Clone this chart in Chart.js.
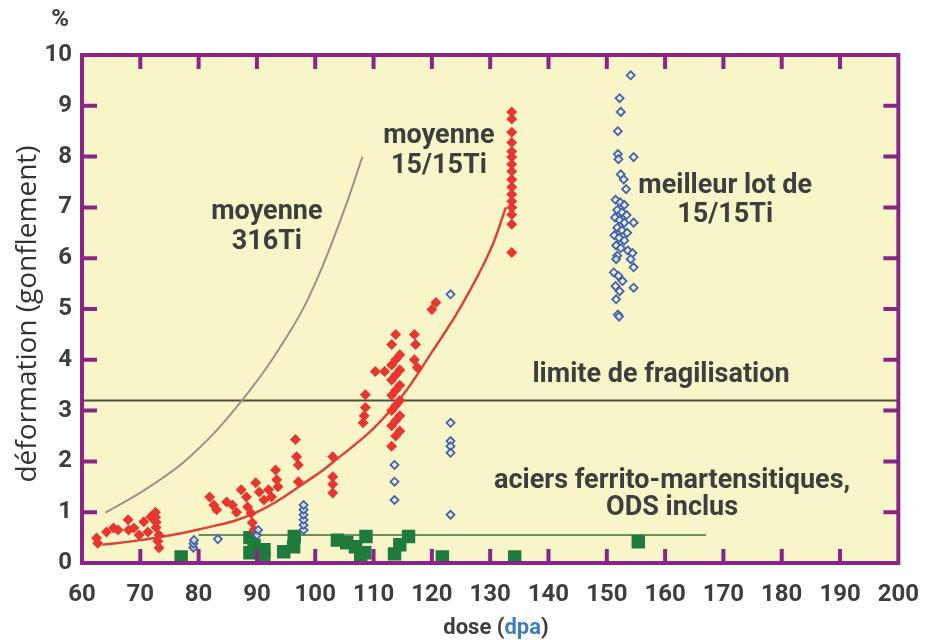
<!DOCTYPE html>
<html>
<head>
<meta charset="utf-8">
<script src="https://cdn.jsdelivr.net/npm/chart.js@4.4.0/dist/chart.umd.min.js"></script>
<style>
  html, body { margin: 0; padding: 0; background: #ffffff; }
  #wrap { width: 937px; height: 640px; position: relative; }
</style>
</head>
<body>
<div id="wrap"><canvas id="c" width="937" height="640"></canvas></div>
<script>
// Axis ticks
const doseTicks = [60, 70, 80, 90, 100, 110, 120, 130, 140, 150, 160, 170, 180, 190, 200];
const swellTicks = [0, 1, 2, 3, 4, 5, 6, 7, 8, 9, 10];

// 15/15Ti measurements (filled red diamonds)
const redDose = [
  62.5, 62.7, 64.2, 65.4, 66.2, 67.9, 68.0, 68.9, 69.8, 70.6, 71.3, 71.8,
  72.6, 72.6, 72.7, 72.7, 73.2, 73.0, 73.2,
  81.9, 82.6, 83.1, 84.8, 85.8, 86.5, 87.3, 88.2, 88.4, 89.0, 89.2, 89.5,
  89.8, 90.4, 91.2, 92.0, 92.5, 93.2, 93.4, 93.6, 96.6, 96.8, 97.1, 97.1,
  103.0, 103.0, 103.0, 103.0,
  108.2, 108.4, 108.6, 108.6, 110.3, 111.9,
  113.8, 113.1, 114.5, 113.8, 113.1, 114.5, 113.8, 113.1, 114.5, 113.8,
  113.1, 114.5, 113.8, 113.1, 114.5, 113.8, 113.1, 114.5, 113.8, 113.1,
  117.0, 117.2, 117.0, 117.5, 120.0, 120.7,
  133.7, 133.7, 133.7, 133.7, 133.7, 133.7, 133.7, 133.7, 133.7, 133.7,
  133.7, 133.7, 133.7, 133.7, 133.7, 133.7
];
const redSwell = [
  0.49, 0.39, 0.61, 0.69, 0.65, 0.85, 0.65, 0.69, 0.55, 0.81, 0.61, 0.91,
  1.0, 0.9, 0.8, 0.7, 0.55, 0.43, 0.3,
  1.3, 1.14, 1.05, 1.2, 1.14, 1.0, 1.44, 1.3, 1.1, 0.98, 0.79, 0.65,
  1.58, 1.4, 1.24, 1.44, 1.3, 1.83, 1.64, 1.5, 2.43, 2.09, 1.93, 1.6,
  2.09, 1.7, 1.55, 1.38,
  2.76, 2.9, 3.06, 3.31, 3.77, 3.77,
  4.5, 4.3, 4.1, 4.0, 3.9, 3.8, 3.7, 3.6, 3.5, 3.4,
  3.3, 3.2, 3.1, 3.0, 2.9, 2.8, 2.7, 2.6, 2.5, 2.3,
  4.5, 4.3, 4.0, 3.85, 4.99, 5.13,
  8.88, 8.74, 8.48, 8.28, 8.1, 7.99, 7.85, 7.71, 7.55, 7.4,
  7.26, 7.12, 7.0, 6.86, 6.67, 6.11
];

// Best 15/15Ti batch and other austenitic points (open blue diamonds)
const blueDose = [
  79.1, 79.1, 79.2, 83.3, 90.0, 90.2,
  98.0, 98.0, 98.0, 98.0, 98.0, 98.0,
  113.6, 113.6, 113.6,
  123.2, 123.2, 123.2, 123.2, 123.2, 123.2,
  154.1, 152.2, 152.4, 151.9, 151.9, 152.0, 154.6, 152.4, 152.9, 153.3,
  151.5, 152.3, 153.0, 151.8, 152.6, 153.4, 151.4, 152.2, 153.0, 154.6,
  151.8, 152.6, 153.5, 151.3, 152.1, 153.0, 151.6, 152.4, 153.6, 154.4,
  151.8, 151.6, 154.1, 154.6, 151.2, 152.0, 152.7, 151.5, 154.6, 152.2,
  151.6, 151.9, 152.1
];
const blueSwell = [
  0.3, 0.38, 0.45, 0.47, 0.55, 0.65,
  0.65, 0.75, 0.85, 0.95, 1.05, 1.14,
  1.93, 1.6, 1.24,
  5.29, 2.76, 2.4, 2.3, 2.17, 0.95,
  9.6, 9.15, 8.88, 8.5, 8.05, 7.95, 7.99, 7.65, 7.55, 7.36,
  7.15, 7.1, 7.05, 6.95, 6.9, 6.85, 6.8, 6.75, 6.7, 6.7,
  6.6, 6.55, 6.5, 6.45, 6.4, 6.35, 6.25, 6.2, 6.15, 6.1,
  6.05, 5.98, 5.98, 5.82, 5.72, 5.65, 5.55, 5.45, 5.42, 5.35,
  5.19, 4.89, 4.85
];

// Ferritic-martensitic steels, ODS included (green squares)
const greenDose = [
  77.0, 88.8, 88.8, 89.5, 91.2, 91.2, 94.6, 96.4, 96.3,
  103.8, 105.4, 106.9, 108.7, 108.5, 107.8,
  113.6, 114.5, 116.0, 121.8, 134.2, 155.4
];
const greenSwell = [
  0.12, 0.5, 0.2, 0.35, 0.26, 0.12, 0.22, 0.52, 0.32,
  0.45, 0.4, 0.32, 0.52, 0.2, 0.12,
  0.18, 0.36, 0.52, 0.12, 0.12, 0.42
];

// Mean swelling curves
const mean316Dose = [64, 71.3, 78.5, 87.5, 95.9, 100.5, 105, 108.1];
const mean316Swell = [0.99, 1.48, 2.09, 3.21, 4.6, 5.64, 6.96, 8.0];
const mean1515Dose = [63.5, 70, 80, 90, 100, 103, 110, 115, 120, 125, 130, 132.7];
const mean1515Swell = [0.36, 0.45, 0.66, 1.0, 1.72, 1.98, 2.65, 3.3, 4.15, 5.05, 6.15, 7.0];

// Embrittlement limit and ferritic envelope
const limitDose = [60, 200];
const limitSwell = [3.2, 3.2];
const ferriticDose = [80, 167];
const ferriticSwell = [0.55, 0.55];

const pts = (xs, ys) => xs.map((x, i) => ({ x: x, y: ys[i] }));

const PURPLE = '#8c2388';
const TEXT = '#3e3e3e';
const LABEL_FONT = 'bold 27px Roboto, "DejaVu Sans", sans-serif';

const backdrop = {
  id: 'backdrop',
  beforeDraw(chart) {
    const { ctx, chartArea: a } = chart;
    ctx.save();
    ctx.fillStyle = '#ffffff';
    ctx.fillRect(0, 0, chart.width, chart.height);
    ctx.fillStyle = '#f8f6c9';
    ctx.fillRect(a.left, a.top, a.right - a.left, a.bottom - a.top);
    ctx.restore();
  }
};

const frame = {
  id: 'frame',
  afterDatasetsDraw(chart) {
    const { ctx, chartArea: a, scales } = chart;
    ctx.save();
    ctx.strokeStyle = PURPLE;
    ctx.lineWidth = 4;
    ctx.lineCap = 'butt';
    ctx.beginPath();
    doseTicks.slice(1, -1).forEach(v => {
      const px = scales.x.getPixelForValue(v);
      ctx.moveTo(px, a.top); ctx.lineTo(px, a.top + 14);
      ctx.moveTo(px, a.bottom); ctx.lineTo(px, a.bottom - 14);
    });
    swellTicks.slice(1, -1).forEach(v => {
      const py = scales.y.getPixelForValue(v);
      ctx.moveTo(a.left, py); ctx.lineTo(a.left + 15, py);
      ctx.moveTo(a.right, py); ctx.lineTo(a.right - 15, py);
    });
    ctx.stroke();
    ctx.strokeRect(a.left, a.top, a.right - a.left, a.bottom - a.top);
    ctx.restore();
  }
};

const notes = [
  { t: 'moyenne', x: 91.7, y: 6.9 },
  { t: '316Ti', x: 91.7, y: 6.31 },
  { t: 'moyenne', x: 121.2, y: 8.4 },
  { t: '15/15Ti', x: 121.2, y: 7.81 },
  { t: 'meilleur lot de', x: 170.3, y: 7.42 },
  { t: '15/15Ti', x: 170.3, y: 6.84 },
  { t: 'limite de fragilisation', x: 159.3, y: 3.69 },
  { t: 'aciers ferrito-martensitiques,', x: 161.2, y: 1.6 },
  { t: 'ODS inclus', x: 161.2, y: 1.07 }
];

const texts = {
  id: 'texts',
  afterDraw(chart) {
    const { ctx, scales } = chart;
    ctx.save();
    ctx.fillStyle = TEXT;
    ctx.font = LABEL_FONT;
    ctx.textAlign = 'center';
    ctx.textBaseline = 'middle';
    notes.forEach(n => {
      ctx.fillText(n.t, scales.x.getPixelForValue(n.x), scales.y.getPixelForValue(n.y));
    });

    // unit above the vertical axis
    ctx.font = 'bold 24px Roboto, sans-serif';
    ctx.fillText('%', 60, 20);

    // vertical axis title
    ctx.save();
    ctx.translate(28, 314);
    ctx.rotate(-Math.PI / 2);
    ctx.font = '28px "Open Sans", sans-serif';
    ctx.fillStyle = '#333333';
    ctx.fillText('déformation (gonflement)', 0, 0);
    ctx.restore();

    // horizontal axis title with the unit in blue
    ctx.font = 'bold 22px Roboto, sans-serif';
    ctx.textAlign = 'left';
    const parts = [['dose (', TEXT], ['dpa', '#3c7fc0'], [')', TEXT]];
    const total = parts.reduce((s, p) => s + ctx.measureText(p[0]).width, 0);
    let x = 496 - total / 2;
    parts.forEach(p => {
      ctx.fillStyle = p[1];
      ctx.fillText(p[0], x, 628);
      x += ctx.measureText(p[0]).width;
    });
    ctx.restore();
  }
};

new Chart(document.getElementById('c'), {
  type: 'scatter',
  data: {
    datasets: [
      {
        label: '15/15Ti',
        data: pts(redDose, redSwell),
        pointStyle: 'rectRot',
        pointRadius: 5.5,
        backgroundColor: '#e8362e',
        borderColor: '#e8362e',
        borderWidth: 0,
        order: 2
      },
      {
        label: 'meilleur lot de 15/15Ti',
        data: pts(blueDose, blueSwell),
        pointStyle: 'rectRot',
        pointRadius: 4,
        backgroundColor: 'rgba(236,240,236,0.75)',
        borderColor: '#4262ad',
        borderWidth: 1.8,
        order: 1
      },
      {
        label: 'aciers ferrito-martensitiques',
        data: pts(greenDose, greenSwell),
        pointStyle: 'rect',
        pointRadius: 9.5,
        backgroundColor: '#1f7b3d',
        borderWidth: 0,
        clip: 0,
        order: 3
      },
      {
        type: 'line',
        label: 'moyenne 316Ti',
        data: pts(mean316Dose, mean316Swell),
        borderColor: '#a48c8c',
        borderWidth: 2,
        pointRadius: 0,
        tension: 0.4,
        fill: false,
        order: 6
      },
      {
        type: 'line',
        label: 'moyenne 15/15Ti',
        data: pts(mean1515Dose, mean1515Swell),
        borderColor: '#dc4438',
        borderWidth: 2.5,
        pointRadius: 0,
        tension: 0.4,
        fill: false,
        order: 5
      },
      {
        type: 'line',
        label: 'limite de fragilisation',
        data: pts(limitDose, limitSwell),
        borderColor: '#4d4d3c',
        borderWidth: 2,
        pointRadius: 0,
        fill: false,
        order: 7
      },
      {
        type: 'line',
        label: 'enveloppe ferritique',
        data: pts(ferriticDose, ferriticSwell),
        borderColor: '#6a9058',
        borderWidth: 2,
        pointRadius: 0,
        fill: false,
        order: 8
      }
    ]
  },
  options: {
    responsive: false,
    animation: false,
    events: [],
    layout: { padding: { top: 55, right: 25, left: 0, bottom: 0 } },
    plugins: { legend: { display: false }, tooltip: { enabled: false } },
    scales: {
      x: {
        type: 'linear',
        min: doseTicks[0],
        max: doseTicks[doseTicks.length - 1],
        afterBuildTicks: s => { s.ticks = doseTicks.map(v => ({ value: v })); },
        afterFit: s => { s.height = 77; },
        grid: { display: false, drawTicks: false },
        border: { display: false },
        ticks: {
          padding: 18,
          color: TEXT,
          font: { family: 'Roboto', weight: 'bold', size: 24 },
          maxRotation: 0,
          autoSkip: false
        }
      },
      y: {
        type: 'linear',
        min: swellTicks[0],
        max: swellTicks[swellTicks.length - 1],
        afterBuildTicks: s => { s.ticks = swellTicks.map(v => ({ value: v })); },
        afterFit: s => { s.width = 82; },
        grid: { display: false, drawTicks: false },
        border: { display: false },
        ticks: {
          padding: 10,
          color: TEXT,
          font: { family: 'Roboto', weight: 'bold', size: 24 },
          autoSkip: false
        }
      }
    }
  },
  plugins: [backdrop, frame, texts]
});
</script>
</body>
</html>
